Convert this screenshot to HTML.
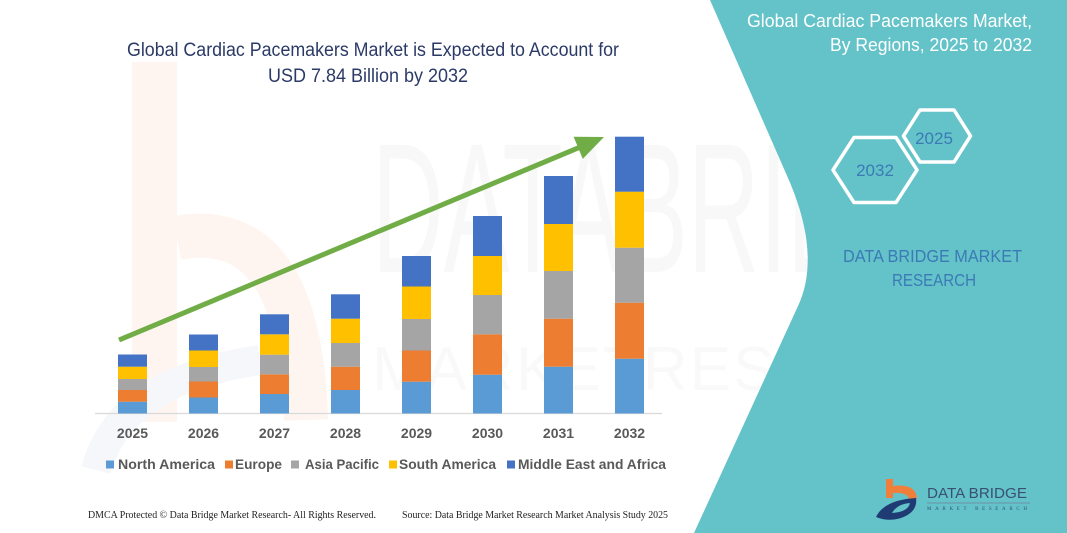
<!DOCTYPE html>
<html>
<head>
<meta charset="utf-8">
<style>
html,body{margin:0;padding:0;background:#fff;}
svg{display:block;}
</style>
</head>
<body>
<svg width="1067" height="533" viewBox="0 0 1067 533" xmlns="http://www.w3.org/2000/svg">
  <rect x="0" y="0" width="1067" height="533" fill="#ffffff"/>

  <!-- faint watermark logo (left) -->
  <rect x="132" y="62" width="45" height="360" fill="#FEF5F1"/>
  <path d="M177,238 Q300,215 306,420" stroke="#FEF5F1" stroke-width="44" fill="none"/>
  <path d="M96,470 Q120,380 260,360" stroke="#F5F7FB" stroke-width="30" fill="none"/>

  <!-- faint watermark text -->
  <text x="372" y="272" font-family="Liberation Sans, sans-serif" font-size="185" fill="#000" opacity="0.022" textLength="630" lengthAdjust="spacingAndGlyphs">DATABRIDGE</text>
  <text x="372" y="390" font-family="Liberation Sans, sans-serif" font-size="62" fill="#000" opacity="0.02" textLength="630" lengthAdjust="spacing">MARKETRESEARCH</text>

  <!-- titles -->
  <text x="127" y="56" font-family="Liberation Sans, sans-serif" font-size="19" fill="#2B3A67" textLength="492" lengthAdjust="spacingAndGlyphs">Global Cardiac Pacemakers Market is Expected to Account for</text>
  <text x="268" y="82" font-family="Liberation Sans, sans-serif" font-size="19" fill="#2B3A67" textLength="200" lengthAdjust="spacingAndGlyphs">USD 7.84 Billion by 2032</text>

  <!-- axis line -->
  <line x1="95" y1="413.5" x2="662" y2="413.5" stroke="#D9D9D9" stroke-width="1.2"/>

  <!-- bars -->
  <g>
    <rect x="118" y="401.7" width="29" height="11.8" fill="#5B9BD5"/>
    <rect x="118" y="390" width="29" height="11.7" fill="#ED7D31"/>
    <rect x="118" y="379" width="29" height="11" fill="#A5A5A5"/>
    <rect x="118" y="366.7" width="29" height="12.3" fill="#FFC000"/>
    <rect x="118" y="354.5" width="29" height="12.2" fill="#4472C4"/>

    <rect x="189" y="397.5" width="29" height="16" fill="#5B9BD5"/>
    <rect x="189" y="381.5" width="29" height="16" fill="#ED7D31"/>
    <rect x="189" y="367" width="29" height="14.5" fill="#A5A5A5"/>
    <rect x="189" y="350.5" width="29" height="16.5" fill="#FFC000"/>
    <rect x="189" y="334.5" width="29" height="16" fill="#4472C4"/>

    <rect x="260" y="394" width="29" height="19.5" fill="#5B9BD5"/>
    <rect x="260" y="374.3" width="29" height="19.7" fill="#ED7D31"/>
    <rect x="260" y="354.7" width="29" height="19.6" fill="#A5A5A5"/>
    <rect x="260" y="334.3" width="29" height="20.4" fill="#FFC000"/>
    <rect x="260" y="314.3" width="29" height="20" fill="#4472C4"/>

    <rect x="331" y="390" width="29" height="23.5" fill="#5B9BD5"/>
    <rect x="331" y="366.7" width="29" height="23.3" fill="#ED7D31"/>
    <rect x="331" y="343" width="29" height="23.7" fill="#A5A5A5"/>
    <rect x="331" y="318.7" width="29" height="24.3" fill="#FFC000"/>
    <rect x="331" y="294.3" width="29" height="24.4" fill="#4472C4"/>

    <rect x="402" y="381.7" width="29" height="31.8" fill="#5B9BD5"/>
    <rect x="402" y="350.5" width="29" height="31.2" fill="#ED7D31"/>
    <rect x="402" y="319" width="29" height="31.5" fill="#A5A5A5"/>
    <rect x="402" y="286.5" width="29" height="32.5" fill="#FFC000"/>
    <rect x="402" y="256" width="29" height="30.5" fill="#4472C4"/>

    <rect x="473" y="374.7" width="29" height="38.8" fill="#5B9BD5"/>
    <rect x="473" y="334.3" width="29" height="40.4" fill="#ED7D31"/>
    <rect x="473" y="295" width="29" height="39.3" fill="#A5A5A5"/>
    <rect x="473" y="256" width="29" height="39" fill="#FFC000"/>
    <rect x="473" y="216" width="29" height="40" fill="#4472C4"/>

    <rect x="544" y="366.7" width="29" height="46.8" fill="#5B9BD5"/>
    <rect x="544" y="318.7" width="29" height="48" fill="#ED7D31"/>
    <rect x="544" y="271" width="29" height="47.7" fill="#A5A5A5"/>
    <rect x="544" y="224" width="29" height="47" fill="#FFC000"/>
    <rect x="544" y="176" width="29" height="48" fill="#4472C4"/>

    <rect x="615" y="358.7" width="29" height="54.8" fill="#5B9BD5"/>
    <rect x="615" y="302.7" width="29" height="56" fill="#ED7D31"/>
    <rect x="615" y="247.7" width="29" height="55" fill="#A5A5A5"/>
    <rect x="615" y="191.7" width="29" height="56" fill="#FFC000"/>
    <rect x="615" y="136.7" width="29" height="55" fill="#4472C4"/>
  </g>

  <!-- arrow -->
  <line x1="119" y1="340" x2="582" y2="146.3" stroke="#70AD47" stroke-width="5"/>
  <polygon points="604,137 573.6,136.7 582.8,158.9" fill="#70AD47"/>

  <!-- year labels -->
  <g font-family="Liberation Sans, sans-serif" font-size="14" font-weight="bold" fill="#595959" text-anchor="middle">
    <text x="132.5" y="438">2025</text>
    <text x="203.5" y="438">2026</text>
    <text x="274.5" y="438">2027</text>
    <text x="345.5" y="438">2028</text>
    <text x="416.5" y="438">2029</text>
    <text x="487.5" y="438">2030</text>
    <text x="558.5" y="438">2031</text>
    <text x="629.5" y="438">2032</text>
  </g>

  <!-- legend -->
  <g font-family="Liberation Sans, sans-serif" font-size="14" font-weight="bold" fill="#595959">
    <rect x="106" y="460.5" width="8" height="8" fill="#5B9BD5"/>
    <text x="118" y="469" textLength="97" lengthAdjust="spacingAndGlyphs">North America</text>
    <rect x="225" y="460.5" width="8" height="8" fill="#ED7D31"/>
    <text x="235" y="469" textLength="47" lengthAdjust="spacingAndGlyphs">Europe</text>
    <rect x="291" y="460.5" width="8" height="8" fill="#A5A5A5"/>
    <text x="305" y="469" textLength="74" lengthAdjust="spacingAndGlyphs">Asia Pacific</text>
    <rect x="389" y="460.5" width="8" height="8" fill="#FFC000"/>
    <text x="399" y="469" textLength="97" lengthAdjust="spacingAndGlyphs">South America</text>
    <rect x="507" y="460.5" width="8" height="8" fill="#4472C4"/>
    <text x="518" y="469" textLength="148" lengthAdjust="spacingAndGlyphs">Middle East and Africa</text>
  </g>

  <!-- footer -->
  <g font-family="Liberation Serif, serif" font-size="10" fill="#222">
    <text x="88" y="518" textLength="288" lengthAdjust="spacingAndGlyphs">DMCA Protected © Data Bridge Market Research-  All Rights Reserved.</text>
    <text x="402" y="518" textLength="266" lengthAdjust="spacingAndGlyphs">Source: Data Bridge Market Research  Market Analysis Study 2025</text>
  </g>

  <!-- teal panel -->
  <path d="M710,0 L788,178 C810,228 814,272 798,306 L694,533 L1067,533 L1067,0 Z" fill="#63C3C9"/>

  <!-- right title -->
  <g font-family="Liberation Sans, sans-serif" font-size="18" fill="#ffffff" text-anchor="end">
    <text x="1032" y="27" textLength="285" lengthAdjust="spacingAndGlyphs">Global Cardiac Pacemakers Market,</text>
    <text x="1032" y="51" textLength="202" lengthAdjust="spacingAndGlyphs">By Regions, 2025 to 2032</text>
  </g>

  <!-- hexagons -->
  <polygon points="903.5,136 920,110 954,110 970.5,136 954,162 920,162" fill="none" stroke="#ffffff" stroke-width="3.5" stroke-linejoin="round"/>
  <polygon points="833,170 854,137.5 896,137.5 917,170 896,202.5 854,202.5" fill="none" stroke="#ffffff" stroke-width="3.5" stroke-linejoin="round"/>
  <g font-family="Liberation Sans, sans-serif" font-size="17" fill="#3C7AB6" text-anchor="middle">
    <text x="934" y="144">2025</text>
    <text x="875" y="176">2032</text>
  </g>

  <!-- DATA BRIDGE MARKET RESEARCH -->
  <g font-family="Liberation Sans, sans-serif" font-size="17.5" fill="#3C7AB6">
    <text x="843" y="262" textLength="179" lengthAdjust="spacingAndGlyphs">DATA BRIDGE MARKET</text>
    <text x="892" y="286" textLength="84" lengthAdjust="spacingAndGlyphs">RESEARCH</text>
  </g>

  <!-- logo -->
  <rect x="886" y="479" width="7" height="19" fill="#F07F3C"/>
  <path d="M893,486 Q916,483 917,499 L909,499 Q907,492 893,493 Z" fill="#F07F3C"/>
  <path d="M876,517 Q884,500 916,498 Q918,512 901,518 Q888,522 876,517 Z" fill="#1F3B73"/>
  <path d="M892,513 Q897,504 910,503 Q908,512 892,513 Z" fill="#63C3C9"/>
  <text x="927" y="498" font-family="Liberation Sans, sans-serif" font-size="15" fill="#3A4F73" textLength="100" lengthAdjust="spacingAndGlyphs">DATA BRIDGE</text>
  <line x1="927" y1="503" x2="1030" y2="503" stroke="#6F8299" stroke-width="0.7"/>
  <text x="927" y="510" font-family="Liberation Serif, serif" font-size="5" fill="#3A4F73" textLength="100" lengthAdjust="spacing">MARKET RESEARCH</text>
</svg>
</body>
</html>
